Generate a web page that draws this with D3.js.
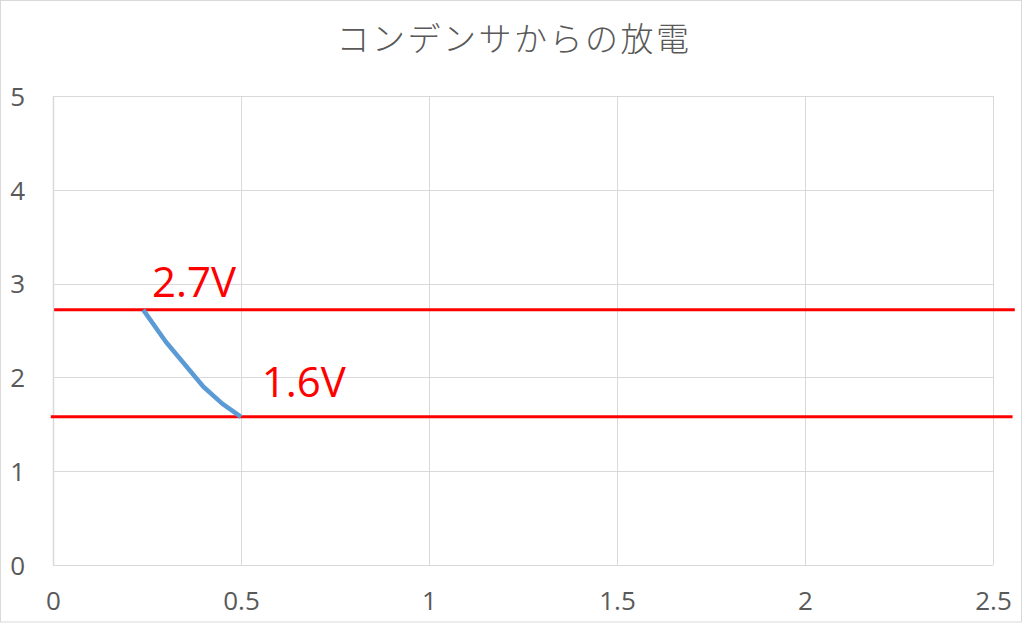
<!DOCTYPE html>
<html>
<head>
<meta charset="utf-8">
<script src="https://cdn.jsdelivr.net/npm/d3@7"></script>
<style>
  html, body { margin: 0; padding: 0; background: #fff; }
  text { font-family: "Open Sans", "Noto Sans", sans-serif; }
</style>
</head>
<body>
<div id="chart"></div>
<script>
let width = 1024;
let height = 624;

// discharge curve (time, voltage)
let times = [0.24, 0.30, 0.35, 0.40, 0.45, 0.50];
let volts = [2.72, 2.38, 2.14, 1.90, 1.72, 1.58];

// ticks
let xTicks = [0, 0.5, 1, 1.5, 2, 2.5];
let yTicks = [0, 1, 2, 3, 4, 5];

// red reference lines and their labels
let refValues = [2.72, 1.58];
let refLabels = ["2.7V", "1.6V"];
let refStart = [0.003, -0.006];
let refEnd = [2.558, 2.552];
let labelX = [0.263, 0.555];
let labelY = [2.86, 1.79];

let title = "コンデンサからの放電";

let svg = d3.select("#chart").append("svg")
            .attr("width", width)
            .attr("height", height);

// outer frame
svg.append("rect")
   .attr("x", 0.5).attr("y", 0.5)
   .attr("width", 1021).attr("height", 621.5)
   .attr("fill", "#fff")
   .attr("stroke", "#d9d9d9");

let x = d3.scaleLinear().domain([0, 2.5]).range([53, 993]);
let y = d3.scaleLinear().domain([0, 5]).range([565, 96]);

// gridlines
svg.append("g").selectAll("line")
   .data(yTicks)
   .join("line")
   .attr("x1", x(0)).attr("x2", x(2.5))
   .attr("y1", d => Math.round(y(d)) + 0.5)
   .attr("y2", d => Math.round(y(d)) + 0.5)
   .attr("stroke", "#d9d9d9");

svg.append("g").selectAll("line")
   .data(xTicks)
   .join("line")
   .attr("x1", d => Math.round(x(d)) + 0.5)
   .attr("x2", d => Math.round(x(d)) + 0.5)
   .attr("y1", y(5)).attr("y2", y(0))
   .attr("stroke", "#d9d9d9")
   .attr("stroke-width", d => d === 0 ? 1.5 : 1);

// axes labels (no domain, no tick marks)
let xAxis = svg.append("g")
   .attr("transform", "translate(0," + y(0) + ")")
   .call(d3.axisBottom(x).tickValues(xTicks).tickSize(0).tickPadding(29).tickFormat(d3.format("")));
let yAxis = svg.append("g")
   .attr("transform", "translate(25,0)")
   .call(d3.axisLeft(y).tickValues(yTicks).tickSize(0).tickPadding(0).tickFormat(d3.format("")));

for (let ax of [xAxis, yAxis]) {
    ax.select(".domain").remove();
    ax.selectAll("text")
      .attr("fill", "#595959")
      .style("font-size", "26px")
      .style("font-family", "'Open Sans', 'Noto Sans', sans-serif");
}
yAxis.selectAll("text").attr("dy", "0.36em");
xAxis.selectAll("text").attr("dy", "0.6em");

// title
svg.append("text")
   .attr("x", 514).attr("y", 51)
   .attr("text-anchor", "middle")
   .attr("fill", "#595959")
   .style("font-family", "'Noto Sans CJK JP', sans-serif")
   .style("font-weight", 300)
   .style("font-size", "33px")
   .style("letter-spacing", "2.5px")
   .text(title);

// red reference lines
svg.append("g").selectAll("line")
   .data(refValues)
   .join("line")
   .attr("x1", (d, i) => x(refStart[i]))
   .attr("x2", (d, i) => x(refEnd[i]))
   .attr("y1", d => y(d))
   .attr("y2", d => y(d))
   .attr("stroke", "#ff0000")
   .attr("stroke-width", 3);

// discharge curve
let line = d3.line()
   .x(d => x(d[0]))
   .y(d => y(d[1]));

svg.append("path")
   .datum(times.map((t, i) => [t, volts[i]]))
   .attr("d", line)
   .attr("fill", "none")
   .attr("stroke", "#5b9bd5")
   .attr("stroke-width", 4.5)
   .attr("stroke-linejoin", "round");

// voltage labels
svg.append("g").selectAll("text")
   .data(refLabels)
   .join("text")
   .attr("x", (d, i) => x(labelX[i]))
   .attr("y", (d, i) => y(labelY[i]))
   .attr("fill", "#ff0000")
   .style("font-size", "42px")
   .text(d => d);
</script>
</body>
</html>
